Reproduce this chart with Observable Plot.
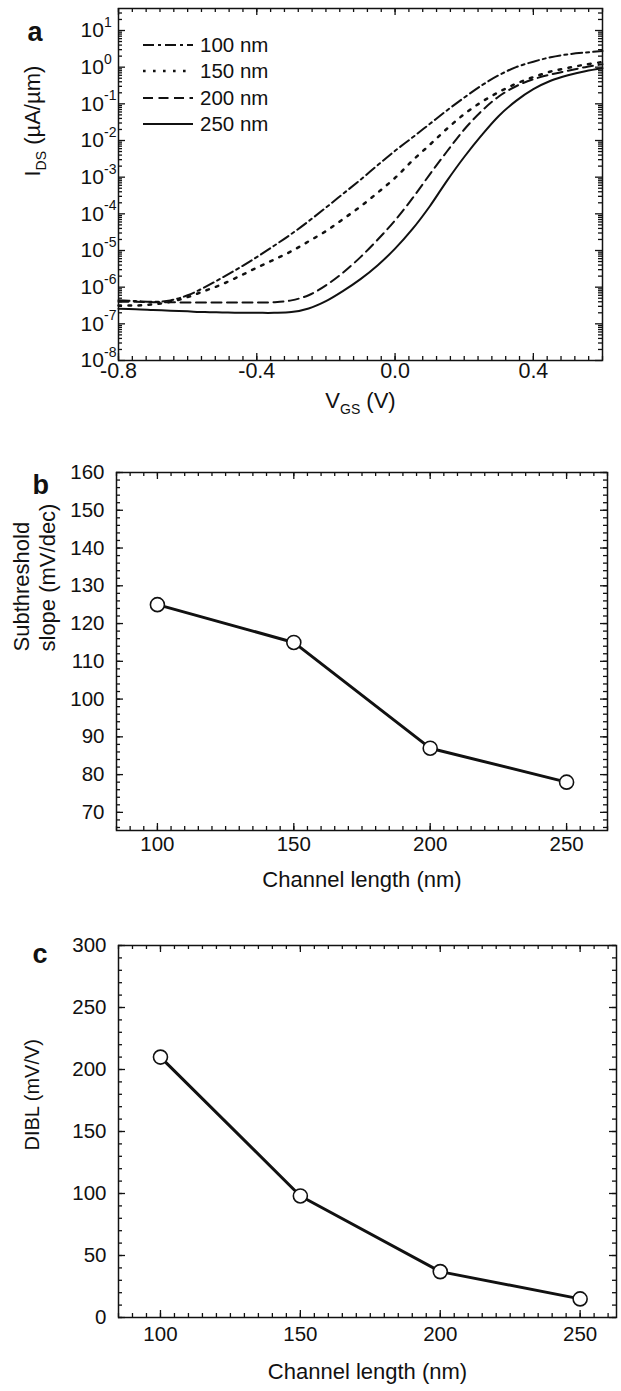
<!DOCTYPE html>
<html><head><meta charset="utf-8">
<script src="https://cdn.jsdelivr.net/npm/d3@7"></script>
<script src="https://cdn.jsdelivr.net/npm/@observablehq/plot@0.6"></script>
<style>
body{margin:0;background:#fff;font-family:"Liberation Sans",Arial,Helvetica,sans-serif;color:#111;}
#wrap{position:relative;width:621px;height:1391px;overflow:hidden;background:#fff;}
.panel{position:absolute;left:0;}
#legend{position:absolute;left:140px;top:32px;}
#legend .row{display:flex;align-items:center;height:26.3px;}
#legend span{font-size:20.5px;margin-left:5px;}
</style></head><body><div id="wrap"></div>
<script>
// ---------- data ----------
const vgs = [-0.80,-0.75,-0.70,-0.65,-0.60,-0.55,-0.50,-0.45,-0.40,-0.35,-0.30,-0.25,-0.20,-0.15,-0.10,-0.05,0.00,0.05,0.10,0.15,0.20,0.25,0.30,0.35,0.40,0.45,0.50,0.55,0.60];
// log10 of I_DS (µA/µm)
const logI100 = [-6.36,-6.38,-6.40,-6.36,-6.22,-6.00,-5.74,-5.47,-5.18,-4.87,-4.55,-4.20,-3.83,-3.45,-3.07,-2.67,-2.28,-1.92,-1.55,-1.18,-0.83,-0.50,-0.22,0.00,0.15,0.27,0.35,0.40,0.44];
const logI150 = [-6.50,-6.50,-6.47,-6.40,-6.27,-6.10,-5.92,-5.70,-5.47,-5.25,-5.02,-4.75,-4.47,-4.14,-3.80,-3.42,-3.02,-2.55,-2.12,-1.68,-1.28,-0.95,-0.68,-0.45,-0.27,-0.12,-0.02,0.07,0.14];
const logI200 = [-6.40,-6.40,-6.41,-6.41,-6.42,-6.42,-6.42,-6.42,-6.42,-6.41,-6.36,-6.22,-5.95,-5.60,-5.18,-4.70,-4.18,-3.58,-2.93,-2.30,-1.70,-1.20,-0.80,-0.52,-0.33,-0.20,-0.10,0.00,0.08];
const logI250 = [-6.59,-6.60,-6.62,-6.64,-6.66,-6.68,-6.69,-6.70,-6.70,-6.70,-6.68,-6.58,-6.38,-6.10,-5.78,-5.40,-4.95,-4.42,-3.80,-3.10,-2.45,-1.86,-1.33,-0.92,-0.60,-0.37,-0.22,-0.11,-0.03];
const seriesNames = ["100 nm","150 nm","200 nm","250 nm"];

const channelLength = [100,150,200,250];
const ssSlope = [125,115,87,78];
const dibl = [210,98,37,15];

const xTicksA = [-0.8,-0.4,0.0,0.4];
const yExpA = [-8,-7,-6,-5,-4,-3,-2,-1,0,1];
const xTicksBC = [100,150,200,250];
const yTicksB = [70,80,90,100,110,120,130,140,150,160];
const yTicksC = [0,50,100,150,200,250,300];

// ---------- styles ----------
const FONT = '"Liberation Sans", Arial, Helvetica, sans-serif';
const INK = "#111";
const dashStyles = ["11,4,3,4","2.6,7.4","10,5.5",null];
const dashWidths = [2,2.5,2,2];

const wrap = document.getElementById("wrap");

function tickMarks(xMaj, xMin, yMaj, yMin, fw, fh, maj = 7, mn = 4) {
  const s = {stroke: INK, strokeWidth: 1.3};
  return [
    Plot.tickX(xMin, {x: d => d, insetTop: fh - mn, ...s}),
    Plot.tickX(xMin, {x: d => d, insetBottom: fh - mn, ...s}),
    Plot.tickX(xMaj, {x: d => d, insetTop: fh - maj, ...s}),
    Plot.tickX(xMaj, {x: d => d, insetBottom: fh - maj, ...s}),
    Plot.tickY(yMin, {y: d => d, insetRight: fw - mn, ...s}),
    Plot.tickY(yMin, {y: d => d, insetLeft: fw - mn, ...s}),
    Plot.tickY(yMaj, {y: d => d, insetRight: fw - maj, ...s}),
    Plot.tickY(yMaj, {y: d => d, insetLeft: fw - maj, ...s})
  ];
}

function subscriptify(svg) {
  d3.select(svg).selectAll("text").each(function () {
    const t = this.textContent;
    const m = t.match(/^(.*?)_([A-Z]+)(.*)$/);
    if (!m) return;
    const sel = d3.select(this);
    sel.text(null);
    sel.append("tspan").text(m[1]);
    sel.append("tspan").attr("font-size", "14px").attr("dy", 6).text(m[2]);
    sel.append("tspan").attr("dy", -6).text(m[3]);
  });
}

function place(svg, top) {
  const d = document.createElement("div");
  d.className = "panel";
  d.style.top = top + "px";
  d.appendChild(svg);
  wrap.appendChild(d);
}

const baseStyle = {fontFamily: FONT, fontSize: "20.5px", color: INK, background: "transparent", overflow: "visible"};

// ---------- panel a ----------
{
  const W = 621, H = 430, mt = 8, mb = 70, ml = 118, mr = 19;
  const fw = W - ml - mr, fh = H - mt - mb;
  const xMin = d3.range(36).map(i => -0.8 + 0.04 * i);
  const yMaj = yExpA.map(e => 10 ** e);
  const yMin = [];
  for (const e of yExpA) for (let m = 2; m <= 9; m++) if (m * 10 ** e < 10 ** 1.6) yMin.push(m * 10 ** e);
  const logs = [logI100, logI150, logI200, logI250];
  const lines = logs.map((L, k) => Plot.line(vgs.map((v, i) => ({v, I: 10 ** L[i]})), {
    x: "v", y: "I", curve: "catmull-rom", stroke: INK, strokeWidth: dashWidths[k],
    strokeDasharray: dashStyles[k] || undefined
  }));
  const svg = Plot.plot({
    width: W, height: H, marginTop: mt, marginBottom: mb, marginLeft: ml, marginRight: mr,
    x: {domain: [-0.8, 0.6], axis: null},
    y: {type: "log", domain: [1e-8, 10 ** 1.6], axis: null},
    style: baseStyle,
    marks: [
      ...tickMarks(xTicksA, xMin, yMaj, yMin, fw, fh, 7, 4),
      ...lines,
      Plot.frame({stroke: INK, strokeWidth: 1.5}),
      Plot.text(xTicksA, {x: d => d, text: d => d.toFixed(1), frameAnchor: "bottom", dy: 17, fill: INK, fontSize: 21.5}),
      Plot.text(yExpA, {y: d => 10 ** d, text: () => "10", frameAnchor: "left", textAnchor: "start", dx: -38, fill: INK, fontSize: 21}),
      Plot.text(yExpA, {y: d => 10 ** d, text: d => String(d), frameAnchor: "left", textAnchor: "start", dx: -14.5, dy: -8, fill: INK, fontSize: 14}),
      Plot.text(["V_GS (V)"], {frameAnchor: "bottom", dy: 47, fill: INK, fontSize: 22}),
      Plot.text(["I_DS (µA/µm)"], {frameAnchor: "left", dx: -86, dy: -8, rotate: -90, fill: INK, fontSize: 22}),
      Plot.text(["a"], {frameAnchor: "top-left", dx: -91, dy: 13, textAnchor: "start", fontWeight: "bold", fontSize: 27, fill: INK})
    ]
  });
  subscriptify(svg);
  place(svg, 0);
}

// legend (panel a)
{
  const lg = document.createElement("div");
  lg.id = "legend";
  seriesNames.forEach((name, k) => {
    const row = document.createElement("div");
    row.className = "row";
    const dash = dashStyles[k] ? ` stroke-dasharray="${dashStyles[k]}"` : "";
    row.innerHTML = `<svg width="55" height="10"><line x1="3" x2="53" y1="5" y2="5" stroke="${INK}" stroke-width="${dashWidths[k]}"${dash}/></svg><span>${name}</span>`;
    lg.appendChild(row);
  });
  wrap.appendChild(lg);
}

// ---------- panel b ----------
{
  const W = 621, H = 470, mt = 42, mb = 70, ml = 116, mr = 14;
  const fw = W - ml - mr, fh = H - mt - mb;
  const xMin = d3.range(85, 266, 5);
  const yMin = d3.range(66, 161, 2);
  const pts = channelLength.map((L, i) => ({L, S: ssSlope[i]}));
  const svg = Plot.plot({
    width: W, height: H, marginTop: mt, marginBottom: mb, marginLeft: ml, marginRight: mr,
    x: {domain: [85, 265], axis: null},
    y: {domain: [65.2, 160], axis: null},
    style: baseStyle,
    marks: [
      ...tickMarks(xTicksBC, xMin, yTicksB, yMin, fw, fh, 7, 4),
      Plot.line(pts, {x: "L", y: "S", stroke: INK, strokeWidth: 3}),
      Plot.dot(pts, {x: "L", y: "S", r: 7, fill: "white", stroke: INK, strokeWidth: 1.6}),
      Plot.frame({stroke: INK, strokeWidth: 1.5}),
      Plot.text(xTicksBC, {x: d => d, text: d => String(d), frameAnchor: "bottom", dy: 20, fill: INK}),
      Plot.text(yTicksB, {y: d => d, text: d => String(d), frameAnchor: "left", textAnchor: "end", dx: -12, fill: INK}),
      Plot.text(["Channel length (nm)"], {frameAnchor: "bottom", dy: 56, fill: INK, fontSize: 22}),
      Plot.text(["Subthreshold\nslope (mV/dec)"], {frameAnchor: "left", dx: -83, rotate: -90, lineHeight: 1.2, fill: INK, fontSize: 22}),
      Plot.text(["b"], {frameAnchor: "top-left", dx: -84, dy: 2, textAnchor: "start", fontWeight: "bold", fontSize: 27, fill: INK})
    ]
  });
  place(svg, 430);
}

// ---------- panel c ----------
{
  const W = 621, H = 491, mt = 45, mb = 74, ml = 118, mr = 5;
  const fw = W - ml - mr, fh = H - mt - mb;
  const xMin = d3.range(85, 264, 5);
  const yMin = d3.range(0, 301, 10);
  const pts = channelLength.map((L, i) => ({L, D: dibl[i]}));
  const svg = Plot.plot({
    width: W, height: H, marginTop: mt, marginBottom: mb, marginLeft: ml, marginRight: mr,
    x: {domain: [85, 263], axis: null},
    y: {domain: [0, 300], axis: null},
    style: baseStyle,
    marks: [
      ...tickMarks(xTicksBC, xMin, yTicksC, yMin, fw, fh, 7, 4),
      Plot.line(pts, {x: "L", y: "D", stroke: INK, strokeWidth: 3}),
      Plot.dot(pts, {x: "L", y: "D", r: 7, fill: "white", stroke: INK, strokeWidth: 1.6}),
      Plot.frame({stroke: INK, strokeWidth: 1.5}),
      Plot.text(xTicksBC, {x: d => d, text: d => String(d), frameAnchor: "bottom", dy: 23, fill: INK}),
      Plot.text(yTicksC, {y: d => d, text: d => String(d), frameAnchor: "left", textAnchor: "end", dx: -12, fill: INK}),
      Plot.text(["Channel length (nm)"], {frameAnchor: "bottom", dy: 61, fill: INK, fontSize: 22}),
      Plot.text(["DIBL (mV/V)"], {frameAnchor: "left", dx: -86, dy: 19, rotate: -90, fill: INK, fontSize: 20}),
      Plot.text(["c"], {frameAnchor: "top-left", dx: -86, dy: -1.5, textAnchor: "start", fontWeight: "bold", fontSize: 27, fill: INK})
    ]
  });
  place(svg, 900);
}
</script></body></html>
